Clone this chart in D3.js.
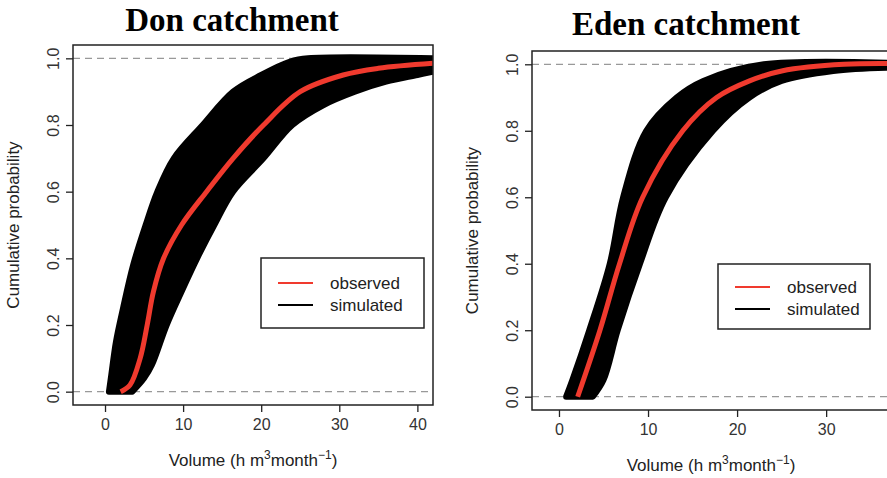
<!DOCTYPE html>
<html><head><meta charset="utf-8">
<script src="https://cdn.jsdelivr.net/npm/d3@7"></script>
<style>body{margin:0;background:#fff}</style>
</head><body>
<svg id="chart" width="887" height="478"></svg>
<script>
// Don catchment: [volume, cumulative probability]
const donUpper = [[0.5,0],[0.8,0.05],[1.4,0.15],[2.3,0.25],[3.6,0.38],[5.2,0.5],[6.7,0.6],[8.8,0.7],[12.5,0.8],[16.4,0.9],[20,0.95],[23.7,0.99],[26,1.0],[42,1.0]];
const donLower = [[3.5,0],[5,0.04],[6,0.08],[7.9,0.2],[9.8,0.3],[11.8,0.4],[14,0.5],[16.4,0.6],[20.3,0.7],[24,0.8],[28,0.86],[32,0.9],[36,0.93],[40,0.95],[42,0.96]];
const donObs = [[2,0],[3.2,0.02],[4.5,0.1],[5.4,0.2],[6.2,0.3],[7.5,0.4],[9.8,0.5],[13,0.6],[16.4,0.7],[20.3,0.8],[25,0.9],[30.5,0.95],[35,0.97],[42,0.985]];
// Eden catchment
const edenUpper = [[0.8,0],[1.5,0.05],[3.4,0.2],[5.7,0.4],[7.2,0.6],[9.8,0.8],[13.2,0.9],[16.2,0.95],[23,1.0],[42,1.0]];
const edenLower = [[3.8,0],[5,0.05],[6.6,0.2],[9.1,0.4],[12,0.6],[17.3,0.8],[21.4,0.9],[25,0.95],[30.8,0.98],[37,0.99],[42,0.99]];
const edenObs = [[2.1,0],[4.6,0.2],[6.8,0.4],[9.4,0.6],[13.9,0.8],[17.7,0.9],[21.4,0.95],[25,0.98],[32,1.0],[42,1.0]];
const xTicks = [0,10,20,30,40];
const yTicks = [0,0.2,0.4,0.6,0.8,1.0];

const svg = d3.select("#chart");
const sans = "Liberation Sans, Arial";

function panel(o){
  const x = d3.scaleLinear().domain(o.xd).range([o.left,o.right]);
  const y = d3.scaleLinear().domain([-0.04,1.04]).range([o.bottom,o.top]);
  const g = svg.append("g");
  const clipId = "clip"+o.id;
  g.append("clipPath").attr("id",clipId).append("rect")
    .attr("x",o.left).attr("y",o.top).attr("width",o.right-o.left).attr("height",o.bottom-o.top);
  const p = g.append("g").attr("clip-path",`url(#${clipId})`);
  [0,1].forEach(v => p.append("line").attr("x1",o.left).attr("x2",o.right)
    .attr("y1",y(v)).attr("y2",y(v)).attr("stroke","#999").attr("stroke-dasharray","7,5").attr("stroke-width",1.2));
  const lineX = d3.line().x(d=>x(d[0])).y(d=>y(d[1])).curve(d3.curveCatmullRom);
  const band = lineX(o.upper) + "L" + lineX(o.lower.slice().reverse()).slice(1) + "Z";
  p.append("path").attr("d", band)
    .attr("fill","#000").attr("stroke","#000").attr("stroke-width",6).attr("stroke-linejoin","round");
  p.append("path").attr("d",lineX(o.obs)).attr("fill","none").attr("stroke","#f03a2e").attr("stroke-width",5);
  g.append("rect").attr("x",o.left).attr("y",o.top).attr("width",o.right-o.left).attr("height",o.bottom-o.top)
    .attr("fill","none").attr("stroke","#222").attr("stroke-width",1.5);
  const xa = g.append("g").attr("transform",`translate(0,${o.bottom})`)
    .call(d3.axisBottom(x).tickValues(xTicks.filter(t=>x(t)<=Math.min(o.right,870))).tickSize(7).tickPadding(7));
  xa.select(".domain").remove();
  const ya = g.append("g").attr("transform",`translate(${o.left},0)`)
    .call(d3.axisLeft(y).tickValues(yTicks).tickSize(7).tickFormat(d3.format(".1f")));
  ya.select(".domain").remove();
  ya.selectAll("text").attr("x",0).attr("dy",0).attr("text-anchor","middle")
    .attr("transform","translate(-14,0) rotate(-90)");
  [xa,ya].forEach(a=>{a.selectAll("text").attr("font-family",sans).attr("font-size",16).attr("fill","#333");
    a.selectAll("line").attr("stroke","#222").attr("stroke-width",1.3);});
  g.append("text").attr("x",o.titleX).attr("y",o.titleY).attr("text-anchor","middle")
    .attr("font-family","Liberation Serif, Times New Roman").attr("font-weight","bold").attr("font-size",33).text(o.title);
  const xl = g.append("text").attr("x",o.xlabX).attr("y",o.bottom+61).attr("text-anchor","middle")
    .attr("font-family",sans).attr("font-size",17).attr("fill","#222");
  xl.append("tspan").text("Volume (h m");
  xl.append("tspan").attr("dy",-7).attr("font-size",12).text("3");
  xl.append("tspan").attr("dy",7).text("month");
  xl.append("tspan").attr("dy",-7).attr("font-size",12).text("\u22121");
  xl.append("tspan").attr("dy",7).text(")");
  g.append("text").attr("transform",`translate(${o.left-54},${(o.top+o.bottom)/2}) rotate(-90)`)
    .attr("text-anchor","middle").attr("font-family",sans).attr("font-size",17).attr("fill","#222")
    .text("Cumulative probability");
  const L = o.legend;
  g.append("rect").attr("x",L[0]).attr("y",L[1]).attr("width",L[2]).attr("height",L[3])
    .attr("fill","#fff").attr("stroke","#222").attr("stroke-width",1.5);
  [["observed","#f03a2e"],["simulated","#000"]].forEach((e,i)=>{
    const yy = L[1]+L[4]+i*22;
    g.append("line").attr("x1",L[0]+17).attr("x2",L[0]+52).attr("y1",yy).attr("y2",yy).attr("stroke",e[1]).attr("stroke-width",2);
    g.append("text").attr("x",L[0]+69).attr("y",yy+6).attr("font-family",sans)
      .attr("font-size",17).attr("fill","#222").text(e[0]);
  });
}

panel({id:"a",title:"Don catchment",titleX:232,titleY:31,xd:[-4.1,42],left:73,right:433,top:45,bottom:405,
  upper:donUpper,lower:donLower,obs:donObs,legend:[261,258,163,70,25],xlabX:253});
panel({id:"b",title:"Eden catchment",titleX:686,titleY:35,xd:[-3.03,42],left:532,right:933,top:51,bottom:410,
  upper:edenUpper,lower:edenLower,obs:edenObs,legend:[718,264,152,65,23],xlabX:711});
</script>
</body></html>
